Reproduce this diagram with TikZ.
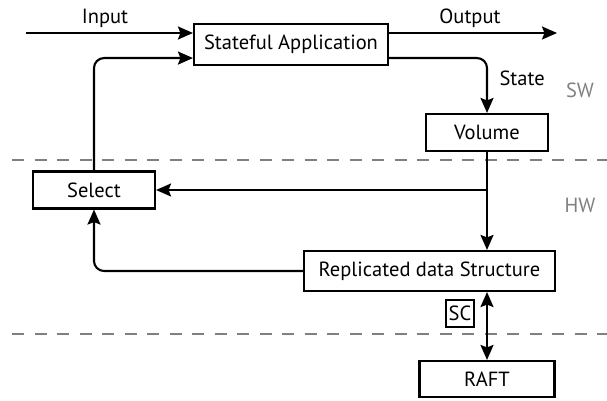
\documentclass[tikz,border=0pt]{standalone}
\usepackage{fontspec}
\setmainfont{PT Sans}
\usetikzlibrary{arrows.meta}

\tikzset{
  txt/.style={font=\fontsize{20.5}{24}\selectfont},
  box/.style={draw, line width=2.1pt, inner sep=0pt, txt},
  conn/.style={line width=2.1pt, -{Stealth[length=15pt, width=13pt, inset=2.5pt]}},
  layer/.style={gray, line width=1.6pt, dash pattern=on 12pt off 10.5pt},
}

\begin{document}
\begin{tikzpicture}[x=1pt, y=-1pt]

\useasboundingbox (0,0) rectangle (607,401);

\draw[layer] (12,160) -- (607,160);
\draw[layer] (12,334) -- (607,334);

\node[box, minimum width=194pt, minimum height=41pt] (app) at (291,44.5) {Stateful Application};
\node[box, minimum width=122pt, minimum height=37pt] (vol) at (487,132.5) {Volume};
\node[box, minimum width=122pt, minimum height=37pt] (sel) at (94,190) {Select};
\node[box, minimum width=251pt, minimum height=40pt] (rds) at (429.5,271) {Replicated data Structure};
\node[box, minimum width=135pt, minimum height=36pt] (raft) at (487,379) {RAFT};
\node[box, line width=1.6pt, minimum width=28pt, minimum height=27pt] (sc) at (460,313.5) {SC};

\node[txt] (inlbl) at (105,18) {Input};
\node[txt] (outlbl) at (470,18) {Output};
\node[txt, anchor=west] (statelbl) at (496,78) {State};
\node[txt, gray] (sw) at (580,90) {SW};
\node[txt, gray] (hw) at (580,205) {HW};

\coordinate (in) at (26,33);
\coordinate (out) at (557,33);
\coordinate (br) at (vol.south |- sel.east);

\draw[conn] (in) -- (app.west |- in);
\draw[conn] (app.east |- out) -- (out);
\draw[conn, rounded corners=10pt] ([yshift=8pt]app.south east) -| (vol.north);
\draw[conn, rounded corners=10pt] (sel.north) |- ([yshift=8pt]app.south west);
\draw[conn] (vol.south) -- (vol.south |- rds.north);
\draw[conn] (br) -- (sel.east);
\draw[conn, rounded corners=10pt] (rds.west) -| (sel.south);
\draw[conn, {Stealth[length=15pt, width=13pt, inset=2.5pt]}-{Stealth[length=15pt, width=13pt, inset=2.5pt]}] (raft.north |- rds.south) -- (raft.north);

\end{tikzpicture}
\end{document}
